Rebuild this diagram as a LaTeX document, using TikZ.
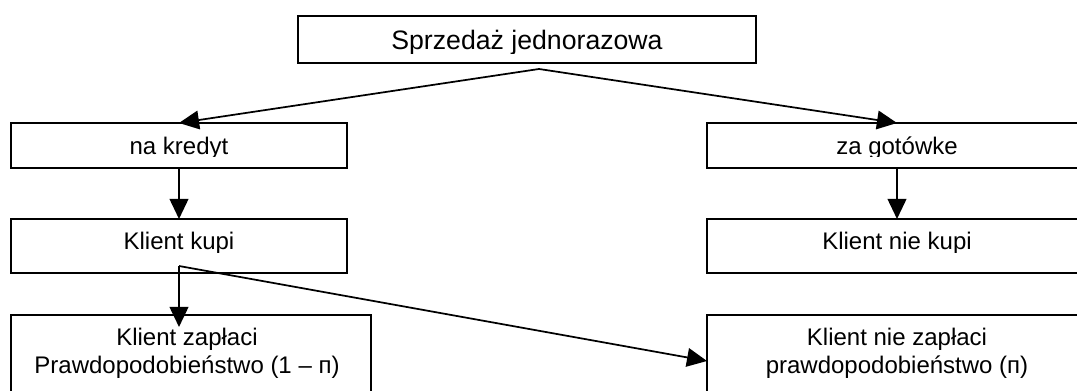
\documentclass[tikz,border=0pt]{standalone}
\usepackage{fontspec}
\setmainfont{Liberation Sans}
\usetikzlibrary{arrows.meta,calc}
\begin{document}
\begin{tikzpicture}[x=0.75pt,y=-0.75pt,
  box/.style={draw, line width=1.3pt, inner sep=0pt, outer sep=0pt, rectangle},
  lbl/.style={inner sep=0pt, outer sep=0pt, font=\fontsize{18}{21}\selectfont, align=center},
  arr/.style={line width=1.3pt, -{Triangle[length=15pt,width=14pt]}}]
\useasboundingbox (0,0) rectangle (1077,391);
\clip (0,0) rectangle (1077,391);
% boxes
\node[box, minimum width=343.5pt, minimum height=35.25pt] (top) at (527,39.5) {};
\node[box, minimum width=252pt, minimum height=33.75pt] (kredyt) at (179,145.5) {};
\node[box, minimum width=285pt, minimum height=33.75pt] (gotowke) at (897,145.5) {};
\node[box, minimum width=252pt, minimum height=40.5pt] (kupi) at (179,246) {};
\node[box, minimum width=285pt, minimum height=40.5pt] (niekupi) at (897,246) {};
\node[box, minimum width=270pt, minimum height=78.75pt] (zaplaci) at (191,367.5) {};
\node[box, minimum width=285pt, minimum height=78.75pt] (niezaplaci) at (897,367.5) {};
% texts (clipped as in the original)
\begin{scope}
  \clip (298,16) rectangle (756,54);
  \node[lbl, anchor=base, font=\fontsize{20}{23}\selectfont] (ttop) at (527,50) {Sprzedaż jednorazowa};
\end{scope}
\begin{scope}
  \clip (11,123) rectangle (347,157);
  \node[lbl, anchor=base] (tkredyt) at (179,155) {na kredyt};
\end{scope}
\begin{scope}
  \clip (707,123) rectangle (1087,157);
  \node[lbl, anchor=base] (tgotowke) at (897,155) {za gotówke};
\end{scope}
\begin{scope}
  \clip (11,219) rectangle (347,253);
  \node[lbl, anchor=base] (tkupi) at (179,250) {Klient kupi};
\end{scope}
\begin{scope}
  \clip (707,219) rectangle (1087,253);
  \node[lbl, anchor=base] (tniekupi) at (897,250) {Klient nie kupi};
\end{scope}
\node[lbl, anchor=north] (tzaplaci) at (187,327.8) {Klient zapłaci\\Prawdopodobieństwo (1 – п)};
\node[lbl, anchor=north] (tniezaplaci) at (897,327.8) {Klient nie zapłaci\\prawdopodobieństwo (п)};
% connectors
\coordinate (a1) at (539,69);
\draw[arr] (a1) -- (kredyt.north);
\draw[arr] (a1) -- (gotowke.north);
\draw[arr] (kredyt.south) -- (kupi.north);
\draw[arr] (gotowke.south) -- (niekupi.north);
\coordinate (a2) at (179,266);
\coordinate (t2) at ($(a2 |- zaplaci.north)+(0,12)$);
\coordinate (t3) at ($(niezaplaci.north west)+(0,46)$);
\draw[arr] (a2) -- (t2);
\draw[arr] (a2) -- (t3);
\end{tikzpicture}
\end{document}
